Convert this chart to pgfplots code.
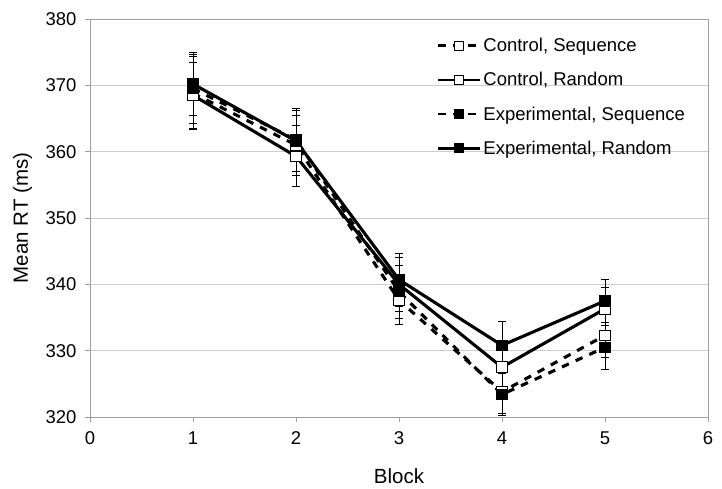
\documentclass[border=0pt]{standalone}
\usepackage{fontspec}
\setmainfont{Liberation Sans}
\usepackage{pgfplots}
\usepackage{pgfplotstable}
\pgfplotsset{compat=1.18}
\pgfplotstableread{
x y e
1 368.8 5.5
2 361.0 4.5
3 337.6 3.7
4 323.8 3.3
5 332.3 3.3
}\CS
\pgfplotstableread{
x y e
1 368.5 5.0
2 359.3 4.6
3 340.0 4.0
4 327.5 3.3
5 336.3 3.3
}\CR
\pgfplotstableread{
x y e
1 369.5 5.2
2 361.8 4.8
3 338.9 4.0
4 323.4 3.2
5 330.5 3.3
}\ES
\pgfplotstableread{
x y e
1 370.2 4.8
2 361.6 4.6
3 340.7 4.0
4 330.8 3.6
5 337.5 3.2
}\ER
\begin{document}
\begin{tikzpicture}
\useasboundingbox (0,0) rectangle (722pt,489pt);
\begin{axis}[
  at={(90pt,72pt)}, anchor=south west,
  scale only axis, width=618pt, height=398pt,
  xmin=0, xmax=6, ymin=320, ymax=380,
  xtick={0,1,...,6}, ytick={320,330,...,380},
  ymajorgrids, grid style={gray!40, line width=0.8pt},
  axis line style={gray!75, line width=0.9pt},
  tick style={gray!75, line width=0.7pt},
  tick align=outside, major tick length=5pt, tick pos=left,
  /pgf/number format/assume math mode=true,
  tick label style={font=\fontsize{18.5}{21}\selectfont},
  xticklabel style={yshift=-6pt},
  yticklabel style={xshift=-5pt},
  xlabel={Block}, ylabel={Mean RT (ms)},
  label style={font=\fontsize{20.5}{24}\selectfont},
  xlabel style={at={(axis description cs:0.5,0)}, anchor=base, yshift=-67pt},
  ylabel style={at={(axis description cs:0,0.5)}, anchor=base, yshift=62pt},
  legend style={draw=none, fill=none, at={(0.556,0.962)}, anchor=north west,
    font=\fontsize{18.5}{21}\selectfont, row sep=15.3pt,
    nodes={inner xsep=2pt}},
  legend cell align=left,
  legend image code/.code={\draw[mark repeat=2,mark phase=2,#1, line width=2.6pt, mark size=4.5pt] plot coordinates {(0pt,0pt) (21pt,0pt) (42pt,0pt)};},
  error bars/y dir=both, error bars/y explicit,
  error bars/error bar style={black, line width=0.7pt, solid},
  error bars/error mark options={rotate=90, mark size=4pt, line width=0.7pt, black, solid},
  every axis plot/.append style={black, line width=3.1pt},
  seq/.style={dash pattern=on 7.5pt off 7.5pt},
]
\addplot[seq, mark=square*, mark size=5.3pt, mark options={solid, fill=white, draw=black, line width=0.9pt}]
  table[x=x, y=y, y error=e] {\CS};
\addlegendentry{Control, Sequence}
\addplot[mark=square*, mark size=5.3pt, mark options={solid, fill=white, draw=black, line width=0.9pt}]
  table[x=x, y=y, y error=e] {\CR};
\addlegendentry{Control, Random}
\addplot[seq, mark=square*, mark size=5.3pt, mark options={solid, fill=black, draw=black, line width=0.9pt}]
  table[x=x, y=y, y error=e] {\ES};
\addlegendentry{Experimental, Sequence}
\addplot[mark=square*, mark size=5.3pt, mark options={solid, fill=black, draw=black, line width=0.9pt}]
  table[x=x, y=y, y error=e] {\ER};
\addlegendentry{Experimental, Random}
\end{axis}
\end{tikzpicture}
\end{document}
